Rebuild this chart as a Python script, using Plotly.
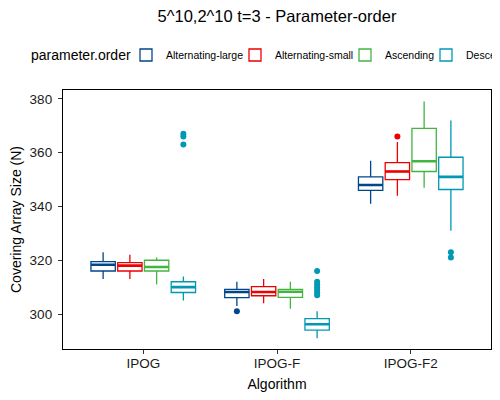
import plotly.graph_objects as go

categories = ["IPOG", "IPOG-F", "IPOG-F2"]
series_names = ["Alternating-large", "Alternating-small", "Ascending", "Descending"]
colors = ["#00468B", "#ED0000", "#42B540", "#0099B4"]

# per-series box statistics, one value per algorithm (IPOG, IPOG-F, IPOG-F2)
alt_large_low = [313, 303, 341]
alt_large_q1 = [316, 306.1, 346]
alt_large_med = [318.3, 308.2, 348]
alt_large_q3 = [319.5, 309.2, 351]
alt_large_high = [323, 312, 357]
alt_large_out = [[None], [301], [None]]

alt_small_low = [313, 304, 344]
alt_small_q1 = [316, 306.8, 350]
alt_small_med = [318, 308.2, 353]
alt_small_q3 = [319.1, 310.2, 356.3]
alt_small_high = [322, 313, 364]
alt_small_out = [[None], [None], [366]]

asc_low = [311, 302, 347]
asc_q1 = [316, 306.2, 353]
asc_med = [317.5, 308.3, 356.8]
asc_q3 = [320, 309.2, 369]
asc_high = [321, 312, 379]
asc_out = [[None], [None], [None]]

desc_low = [305, 291, 331]
desc_q1 = [308, 294, 346.3]
desc_med = [310, 296.2, 351]
desc_q3 = [312, 298.3, 358.3]
desc_high = [314, 301, 372]
desc_out = [[367, 366, 363], [316, 312, 311, 310, 309, 308, 307], [323, 321]]

stats = [
    (alt_large_low, alt_large_q1, alt_large_med, alt_large_q3, alt_large_high, alt_large_out),
    (alt_small_low, alt_small_q1, alt_small_med, alt_small_q3, alt_small_high, alt_small_out),
    (asc_low, asc_q1, asc_med, asc_q3, asc_high, asc_out),
    (desc_low, desc_q1, desc_med, desc_q3, desc_high, desc_out),
]

legend_ids = ["legend", "legend2", "legend3", "legend4"]
legend_text_x = [166, 275, 385, 466]  # where each legend label starts in the page

# the page adds an 8px body margin, so the figure is 492x392 and laid out accordingly
W, H = 492, 392
OFF = 8
ML, MR, MT, MB = 63 - OFF, 9, 90 - OFF, 51
PW, PH = W - ML - MR, H - MT - MB

fig = go.Figure()
for i, (name, col, st) in enumerate(zip(series_names, colors, stats)):
    low, q1, med, q3, high, out = st
    fig.add_trace(go.Box(
        name=name, x=categories, y=out,
        q1=q1, median=med, q3=q3, lowerfence=low, upperfence=high,
        boxpoints="outliers", jitter=0, pointpos=0,
        marker=dict(color=col, size=6),
        line=dict(color=col, width=1.3),
        fillcolor="white", whiskerwidth=0,
        offsetgroup=name, legend=legend_ids[i],
    ))
    # thicker median line overlay
    fig.add_trace(go.Box(
        name=name, x=categories,
        q1=med, median=med, q3=med, lowerfence=med, upperfence=med,
        boxpoints=False, line=dict(color=col, width=2.6),
        fillcolor="rgba(0,0,0,0)", whiskerwidth=0,
        offsetgroup=name, showlegend=False, hoverinfo="skip",
    ))

leg_y_fig = 55 - OFF
leg_common = dict(orientation="h", xref="container", yref="container",
                  yanchor="middle", y=1 - leg_y_fig / H, bgcolor="rgba(0,0,0,0)",
                  font=dict(size=10.5, color="black"), itemwidth=30, xanchor="left")
legends = {lid: dict(**leg_common, x=(tx - 48) / W) for lid, tx in zip(legend_ids, legend_text_x)}

fig.update_layout(
    width=W, height=H,
    paper_bgcolor="white", plot_bgcolor="white",
    font=dict(family="Liberation Sans, Arial, sans-serif", color="black"),
    margin=dict(l=ML, r=MR, t=MT, b=MB, autoexpand=False),
    boxmode="group", boxgap=0.2, boxgroupgap=0.09,
    title=dict(text="5^10,2^10 t=3 - Parameter-order", x=0.5, xref="paper",
               xanchor="center", y=1 - 2 / H, yref="container", yanchor="top", pad=dict(t=0, b=0),
               font=dict(size=16.5, color="black")),
    **legends,
    annotations=[dict(
        text="parameter.order", xref="paper", yref="paper",
        x=(30 - OFF - 1 - ML) / PW, y=(H - MB - leg_y_fig) / PH,
        xanchor="left", yanchor="middle", showarrow=False,
        font=dict(size=14, color="black"),
    )],
    xaxis=dict(
        type="category", categoryorder="array", categoryarray=categories,
        range=[-0.6, 2.6], showgrid=False, zeroline=False,
        showline=True, linecolor="black", linewidth=1.3, mirror=True,
        ticks="outside", ticklen=4, tickcolor="#333333", tickwidth=1,
        tickfont=dict(size=13.5, color="#1a1a1a"), ticklabelstandoff=-2,
        title=dict(text="Algorithm", font=dict(size=14, color="black"), standoff=8),
    ),
    yaxis=dict(
        range=[287.0, 383.3], tickvals=[300, 320, 340, 360, 380],
        showgrid=False, zeroline=False,
        showline=True, linecolor="black", linewidth=1.3, mirror=True,
        ticks="outside", ticklen=4, tickcolor="#333333", tickwidth=1,
        tickfont=dict(size=13.5, color="#1a1a1a"), ticklabelstandoff=3,
        title=dict(text="Covering Array Size (N)", font=dict(size=14, color="black"), standoff=14),
    ),
)

fig.write_html("out.html")
